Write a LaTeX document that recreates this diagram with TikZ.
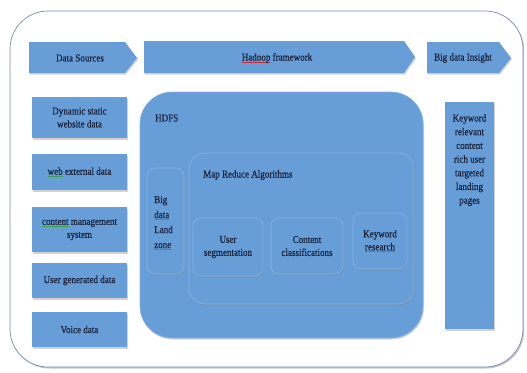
\documentclass[tikz,border=0pt]{standalone}
\usepackage{fontspec}
\setmainfont[FakeStretch=0.86,FakeBold=0.35]{Liberation Serif}
\usetikzlibrary{shadows}
\definecolor{boxblue}{RGB}{104,158,216}
\definecolor{edgeblue}{RGB}{134,180,228}
\definecolor{txt}{RGB}{24,32,58}
\definecolor{outline}{RGB}{120,140,170}
\definecolor{redsq}{RGB}{200,40,60}
\definecolor{greensq}{RGB}{60,160,80}
\newcommand\spl[2]{\setbox0\hbox{#2}\rlap{\color{#1}\rule[-1.7pt]{\wd0}{0.5pt}}\box0\relax}
\tikzset{
  x=1pt, y=-1pt,
  shade box/.style={fill=boxblue, draw=none, drop shadow={shadow xshift=1pt, shadow yshift=-1.5pt, opacity=0.35}},
  edged box/.style={fill=boxblue, draw=edgeblue, line width=0.6pt, drop shadow={shadow xshift=1pt, shadow yshift=-1.5pt, opacity=0.35}},
  lbl/.style={text=txt, font=\fontsize{10.5}{13}\selectfont, align=center, inner sep=0pt},
}
\begin{document}
\begin{tikzpicture}
\useasboundingbox (0,0) rectangle (527,372);
\fill[white] (0,0) rectangle (527,372);
% outer frame
\draw[outline, line width=0.7pt, rounded corners=38pt, fill=white,
      drop shadow={shadow xshift=1.2pt, shadow yshift=-1.5pt, opacity=0.45}]
  (10,11) rectangle (523,367);

% header arrows
\path[shade box] (29,42) -- (125,42) -- (137,58) -- (125,73) -- (29,73) -- cycle;
\node[lbl] (ds) at (80,58) {Data Sources};
\path[shade box] (144,41) -- (404,41) -- (415,57) -- (404,73) -- (144,73) -- cycle;
\node[lbl] (hf) at (277,58) {\spl{redsq}{Hadoop} framework};
\path[shade box] (427,42) -- (499,42) -- (511,58) -- (499,73) -- (427,73) -- cycle;
\node[lbl] (bi) at (463,58) {Big data Insight};

% left data sources
\path[shade box] (32,97) rectangle (127,138);
\node[lbl] (d1) at (79.5,117.5) {Dynamic static\\website data};
\path[shade box] (32,154) rectangle (127,190);
\node[lbl] (d2) at (79.5,172) {\spl{greensq}{web} external data};
\path[shade box] (32,207) rectangle (127,252);
\node[lbl] (d3) at (79.5,229.5) {\spl{greensq}{content} management\\system};
\path[shade box] (32,263) rectangle (127,298);
\node[lbl] (d4) at (79.5,280.5) {User generated data};
\path[shade box] (32,312) rectangle (127,347);
\node[lbl] (d5) at (79.5,329.5) {Voice data};

% HDFS
\path[edged box, rounded corners=32pt] (140,92) rectangle (423,338);
\node[lbl, anchor=west] (hdfs) at (155,118) {HDFS};
% land zone
\path[edged box, rounded corners=8pt] (147,168) rectangle (184,274);
\node[lbl, align=left, anchor=west, font=\fontsize{10.5}{15}\selectfont] (lz) at (154,223) {Big\\\spl{greensq}{data}\\Land\\\spl{greensq}{zone}};
% map reduce
\path[edged box, rounded corners=16pt] (189,153) rectangle (414,304);
\node[lbl, anchor=west] (mr) at (203,175) {Map Reduce Algorithms};
\path[edged box, rounded corners=8pt] (193,218) rectangle (263,276);
\node[lbl] (us) at (228,247) {User\\segmentation};
\path[edged box, rounded corners=8pt] (271,218) rectangle (343,274);
\node[lbl] (cc) at (307,246) {Content\\classifications};
\path[edged box, rounded corners=8pt] (353,213) rectangle (407,269);
\node[lbl] (kr) at (380,241) {Keyword\\\spl{greensq}{research}};

% right column
\path[shade box] (445,102) rectangle (494,329);
\node[lbl, anchor=north, font=\fontsize{10.5}{13.7}\selectfont] (kw) at (469.5,114)
  {Keyword\\relevant\\content\\rich user\\targeted\\landing\\pages};
\end{tikzpicture}
\end{document}
